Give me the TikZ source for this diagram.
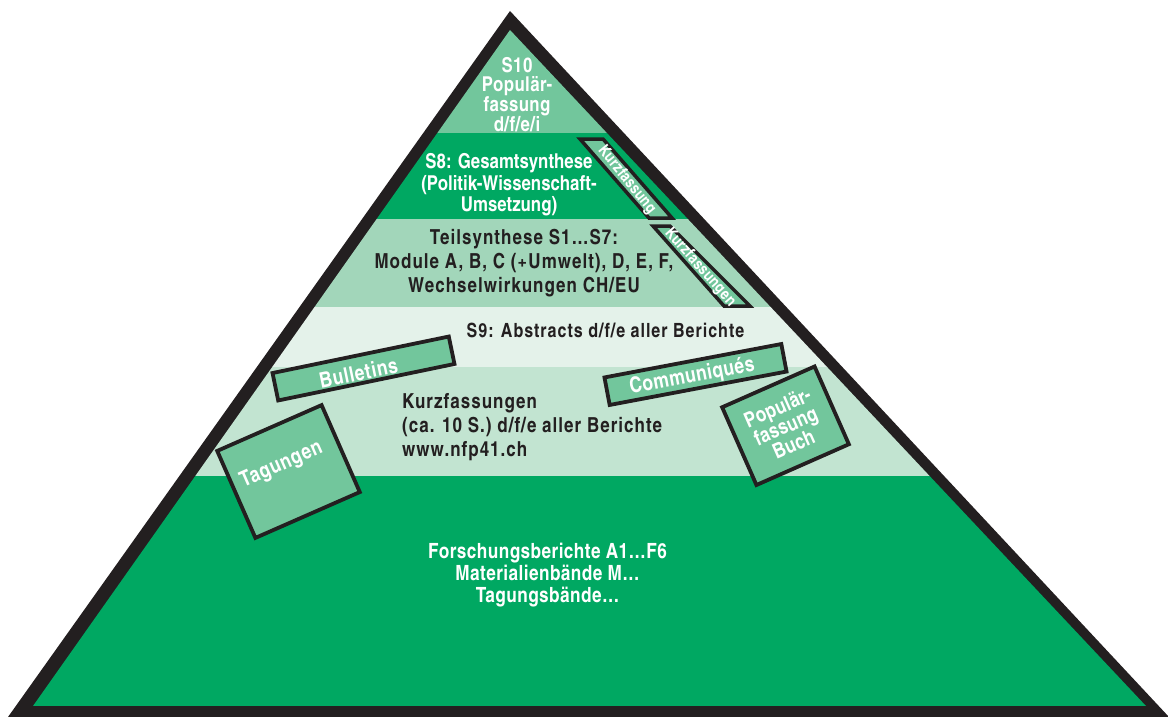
\documentclass[tikz,border=0pt]{standalone}
\usepackage{fontspec}
\setmainfont{TeX Gyre Heros Cn}
\definecolor{pyrblack}{RGB}{35,31,32}
\definecolor{darkgreen}{RGB}{0,168,98}
\definecolor{midgreen}{RGB}{114,198,156}
\definecolor{bandc}{RGB}{162,214,186}
\definecolor{bandd}{RGB}{228,242,234}
\definecolor{bande}{RGB}{194,228,209}
% bold condensed type with a given size, leading and tracking
\newcommand{\condfont}[3]{\bfseries\fontsize{#1}{#2}\selectfont\addfontfeature{LetterSpace=#3}}
\begin{document}
\begin{tikzpicture}[x=1pt,y=-1pt,
  wtxt/.style={text=white, font=\condfont{20.5}{21.5}{0}, align=center, inner sep=0pt},
  dtxt/.style={text=pyrblack, font=\condfont{20.7}{24}{5}, align=center, inner sep=0pt},
  tagbox/.style={draw=pyrblack, line width=3.8pt, fill=midgreen, inner sep=0pt},
  taglabel/.style={text=white, font=\condfont{21.5}{20}{3}, align=center, inner sep=0pt},
  sidelabel/.style={text=white, font=\condfont{16}{16}{2}, inner sep=0pt}]
\useasboundingbox (0,0) rectangle (1168,717);

% pyramid outline
\fill[pyrblack] (510,11) -- (8,717) -- (1169,717) -- cycle;

% horizontal layers
\begin{scope}
  \clip (510,30) -- (33,706) -- (1146,706) -- cycle;
  \fill[midgreen]  (0,0)   rectangle (1168,133);
  \fill[darkgreen] (0,133) rectangle (1168,219);
  \fill[bandc]     (0,219) rectangle (1168,307);
  \fill[bandd]     (0,307) rectangle (1168,367);
  \fill[bande]     (0,367) rectangle (1168,476);
  \fill[darkgreen] (0,476) rectangle (1168,706);
\end{scope}

% slanted side strips
\filldraw[fill=midgreen, draw=pyrblack, line width=3.5pt, line join=miter]
  (580,139) -- (603,139) -- (672,218) -- (649,218) -- cycle;
\filldraw[fill=midgreen, draw=pyrblack, line width=3.5pt, line join=miter]
  (653,226) -- (670,226) -- (750,306) -- (724,306) -- cycle;
\node[sidelabel, rotate=-51] (kf1) at (626.7,180) {Kurzfassung};
\node[sidelabel, rotate=-48.5] (kf2) at (700,267.5) {Kurzfassungen};

% layer texts
\node[wtxt, font=\condfont{20.5}{18.5}{2}] (s10) at (517,95)
  {S10\\Populär-\\fassung\\d/f/e/i};
\node[wtxt] (s8) at (509,185)
  {S8: Gesamtsynthese\\(Politik-Wissenschaft-\\Umsetzung)};
\node[dtxt] (teil) at (524,263)
  {Teilsynthese S1…S7:\\Module A, B, C (+Umwelt), D, E, F,\\Wechselwirkungen CH/EU};
\node[dtxt, font=\condfont{19.6}{24}{5}] (s9) at (605.5,330) {S9: Abstracts d/f/e aller Berichte};
\node[dtxt, align=left, anchor=west] (kurz) at (402,427.5)
  {Kurzfassungen\\(ca. 10 S.) d/f/e aller Berichte\\www.nfp41.ch};
\node[wtxt, font=\condfont{21}{22}{2}] (forsch) at (547.5,575)
  {Forschungsberichte A1…F6\\Materialienbände M…\\Tagungsbände…};

% tilted tags
\node[tagbox, rotate=11.7, minimum width=180, minimum height=28] (bul) at (363.5,368.5) {};
\node[taglabel, rotate=11.7] (bull) at (358.5,373) {Bulletins};
\node[tagbox, rotate=23.7, minimum width=114, minimum height=95] (tag) at (288.5,471.5) {};
\node[taglabel, rotate=23.7] (tagl) at (281.5,465) {Tagungen};
\node[tagbox, rotate=10.7, minimum width=180, minimum height=28] (com) at (695.5,374.5) {};
\node[taglabel, font=\condfont{21.5}{20}{2}, rotate=10.7] (coml) at (692,376.5) {Communiqués};
\node[tagbox, rotate=23.8, minimum width=101, minimum height=85] (pop) at (785.5,425.75) {};
\node[taglabel, font=\condfont{21}{20}{1}, rotate=23.8] (popl) at (785.5,425.75) {Populär-\\fassung\\Buch};
\end{tikzpicture}
\end{document}
